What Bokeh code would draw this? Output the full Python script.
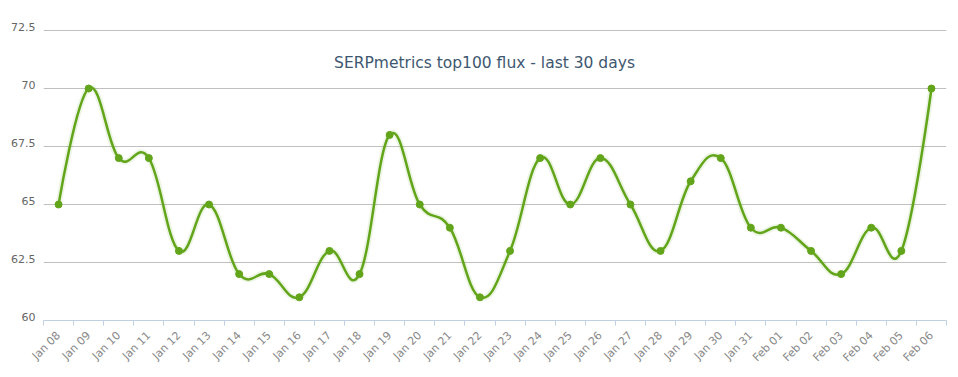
from bokeh.plotting import figure
from bokeh.models import FixedTicker, Label, ColumnDataSource, Range1d, LinearAxis, Grid
from bokeh.embed import file_html
from bokeh.resources import INLINE
import math

# ---- data ----
dates = ["Jan 08", "Jan 09", "Jan 10", "Jan 11", "Jan 12", "Jan 13", "Jan 14", "Jan 15",
         "Jan 16", "Jan 17", "Jan 18", "Jan 19", "Jan 20", "Jan 21", "Jan 22", "Jan 23",
         "Jan 24", "Jan 25", "Jan 26", "Jan 27", "Jan 28", "Jan 29", "Jan 30", "Jan 31",
         "Feb 01", "Feb 02", "Feb 03", "Feb 04", "Feb 05", "Feb 06"]
flux = [65, 70, 67, 67, 63, 65, 62, 62, 61, 63, 62, 68, 65, 64, 61, 63,
        67, 65, 67, 65, 63, 66, 67, 64, 64, 63, 62, 64, 63, 70]
y_ticks = [60, 62.5, 65, 67.5, 70, 72.5]
y_labels = ["60", "62.5", "65", "67.5", "70", "72.5"]
title_text = "SERPmetrics top100 flux - last 30 days"

GREEN = "#62a51b"
FONT = "DejaVu Sans"

n = len(flux)
xs = list(range(n))

# Highcharts-style spline control points (smoothing 1.5, no clamping)
def spline_controls(x, y):
    sm = 1.5
    den = sm + 1
    left = [None] * len(x)
    right = [None] * len(x)
    for i in range(len(x)):
        if 0 < i < len(x) - 1:
            lx, ly = x[i - 1], y[i - 1]
            nx, ny = x[i + 1], y[i + 1]
            px, py = x[i], y[i]
            lcx = (sm * px + lx) / den
            lcy = (sm * py + ly) / den
            rcx = (sm * px + nx) / den
            rcy = (sm * py + ny) / den
            corr = 0
            if rcx != lcx:
                corr = ((rcy - lcy) * (rcx - px)) / (rcx - lcx) + py - rcy
            lcy += corr
            rcy += corr
            left[i] = (lcx, lcy)
            right[i] = (rcx, rcy)
        else:
            left[i] = (x[i], y[i])
            right[i] = (x[i], y[i])
    return left, right

left, right = spline_controls(xs, flux)
seg = dict(x0=[], y0=[], x1=[], y1=[], cx0=[], cy0=[], cx1=[], cy1=[])
for i in range(1, n):
    seg["x0"].append(xs[i - 1]); seg["y0"].append(flux[i - 1])
    seg["x1"].append(xs[i]); seg["y1"].append(flux[i])
    seg["cx0"].append(right[i - 1][0]); seg["cy0"].append(right[i - 1][1])
    seg["cx1"].append(left[i][0]); seg["cy1"].append(left[i][1])

FRAME_H = 294
Y_SPAN = 12.5
PX = Y_SPAN / 290.0          # data units per pixel
lift = 4 * PX                # labels sit ~4px above their grid lines

p = figure(frame_width=903, frame_height=FRAME_H, output_backend="svg", toolbar_location=None,
           x_range=Range1d(-0.5, n - 0.5), y_range=Range1d(60, 72.5 + lift),
           y_axis_location=None,
           min_border_left=43, min_border_right=12, min_border_top=26, min_border_bottom=57)
p.outline_line_color = None
p.background_fill_color = "white"
p.border_fill_color = "white"
# hide any default grids before adding our own
p.xgrid.grid_line_color = None
p.ygrid.grid_line_color = None

src = ColumnDataSource(seg)
# soft glow under the line
p.bezier(source=src, x0="x0", y0="y0", x1="x1", y1="y1",
         cx0="cx0", cy0="cy0", cx1="cx1", cy1="cy1",
         line_color=GREEN, line_width=6, line_alpha=0.12)
p.bezier(source=src, x0="x0", y0="y0", x1="x1", y1="y1",
         cx0="cx0", cy0="cy0", cx1="cx1", cy1="cy1",
         line_color=GREEN, line_width=2.5)
p.scatter(xs, flux, size=7, color=GREEN)

# horizontal grid lines on the main scale
p.add_layout(Grid(dimension=1, ticker=FixedTicker(ticks=y_ticks),
                  grid_line_color="#c0c0c0", grid_line_width=1))

# y axis on a lifted copy of the scale, so labels sit just above their lines
p.extra_y_ranges = {"lab": Range1d(60 - lift, 72.5)}
yax = LinearAxis(y_range_name="lab", ticker=FixedTicker(ticks=y_ticks))
yax.major_label_overrides = {t: l for t, l in zip(y_ticks, y_labels)}
yax.axis_line_color = None
yax.major_tick_line_color = None
yax.minor_tick_line_color = None
yax.major_tick_out = 0
yax.major_tick_in = 0
yax.minor_tick_out = 0
yax.minor_tick_in = 0
yax.major_label_text_color = "#666666"
yax.major_label_text_font = FONT
yax.major_label_text_font_size = "11px"
yax.major_label_standoff = 8
p.add_layout(yax, "left")

# x axis
p.xaxis.ticker = FixedTicker(ticks=xs, minor_ticks=[i - 0.5 for i in range(n + 1)])
p.xaxis.major_label_overrides = {i: d for i, d in enumerate(dates)}
p.xaxis.major_label_orientation = math.pi / 4
p.xaxis.axis_line_color = "#c0d0e0"
p.xaxis.major_tick_line_color = None
p.xaxis.minor_tick_line_color = "#c0d0e0"
p.xaxis.minor_tick_in = 0
p.xaxis.minor_tick_out = 5
p.xaxis.major_label_text_color = "#888888"
p.xaxis.major_label_text_font = FONT
p.xaxis.major_label_text_font_size = "11px"
p.xaxis.major_label_standoff = 7

title = Label(x=441, y=258, x_units="screen", y_units="screen", text=title_text,
              text_align="center", text_baseline="middle", text_color="#3e576f",
              text_font=FONT, text_font_size="15.5px")
p.add_layout(title)

open("out.html", "w").write(file_html(p, INLINE))
